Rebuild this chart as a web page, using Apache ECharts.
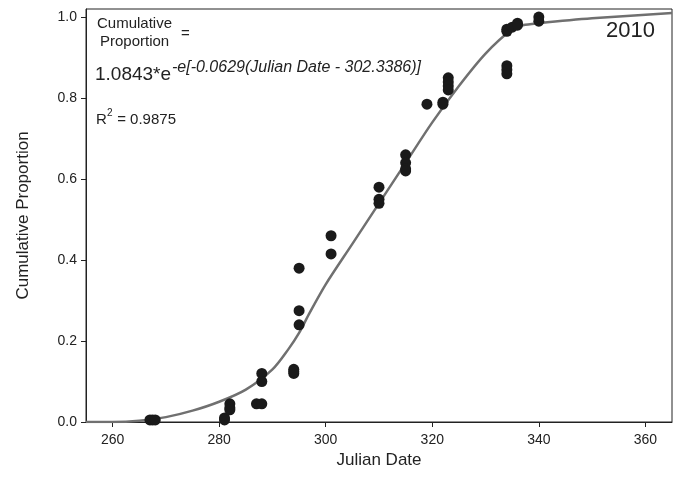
<!DOCTYPE html>
<html><head><meta charset="utf-8">
<script src="https://cdn.jsdelivr.net/npm/echarts@6/dist/echarts.min.js"></script>
<style>html,body{margin:0;padding:0;background:#fff}#c{width:676px;height:490px}</style>
</head><body><div id="c"></div>
<script>
const obsDate = [267,267.5,268,281,281,282,282,282,287,288,288,288,294,294,294,295,295,295,301,301,310,310,310,315,315,315,315,319,322,322,323,323,323,323,334,334,334,334,334,335,336,336,340,340];
const obsProp = [0.005,0.005,0.005,0.01,0.005,0.045,0.035,0.03,0.045,0.045,0.12,0.10,0.13,0.12,0.125,0.38,0.275,0.24,0.46,0.415,0.58,0.55,0.54,0.66,0.64,0.625,0.62,0.785,0.79,0.785,0.85,0.84,0.83,0.82,0.97,0.965,0.88,0.87,0.86,0.975,0.985,0.98,1.0,0.99];
const fitDate = [255,260,265,270,275,280,285,290,293,295,297,300,305,310,315,320,325,330,335,337,340,350,365];
const fitProp = [0,0,0.003,0.012,0.028,0.05,0.08,0.13,0.18,0.22,0.27,0.34,0.44,0.54,0.64,0.74,0.83,0.91,0.97,0.98,0.985,0.997,1.01];
const xTicks = [260,280,300,320,340,360];
const yTicks = [0,0.2,0.4,0.6,0.8,1.0];

const ch = echarts.init(document.getElementById('c'));
const F = 'Liberation Sans, Arial, sans-serif';
ch.setOption({
  animation:false,
  textStyle:{fontFamily:F},
  grid:{left:86,right:4,top:9,bottom:68,containLabel:false,outerBoundsMode:'none'},
  xAxis:{type:'value',min:255,max:365,interval:20,
    name:'Julian Date',nameLocation:'middle',nameGap:30,nameTextStyle:{fontSize:17,color:'#222',verticalAlign:'middle'},
    axisLine:{show:true,lineStyle:{color:'#222'}},axisTick:{show:true,inside:false,length:5,lineStyle:{color:'#222'},customValues:xTicks},
    axisLabel:{color:'#222',fontSize:14,margin:11,customValues:xTicks},splitLine:{show:false}},
  yAxis:{type:'value',min:0,max:1.02,
    name:'Cumulative Proportion',nameLocation:'middle',nameGap:54,nameTextStyle:{fontSize:17,color:'#222'},
    axisLine:{show:true,lineStyle:{color:'#222'}},axisTick:{show:true,length:5,lineStyle:{color:'#222'},customValues:yTicks},
    axisLabel:{color:'#222',fontSize:14,margin:9,customValues:yTicks,formatter:v=>v.toFixed(1)},splitLine:{show:false}},
  series:[
    {type:'line',data:fitDate.map((d,i)=>[d,fitProp[i]]),smooth:0.3,showSymbol:false,lineStyle:{color:'#707070',width:2.5},z:2},
    {type:'scatter',data:obsDate.map((d,i)=>[d,obsProp[i]]),symbolSize:11,itemStyle:{color:'#1a1a1a',opacity:1},z:3}
  ],
  graphic:[
    {type:'rect',shape:{x:86,y:9,width:586,height:413},style:{fill:'none',stroke:'#222',lineWidth:1}},
    {type:'text',x:97,y:16,style:{text:'Cumulative',font:'15px '+F,fill:'#222'}},
    {type:'text',x:100,y:34,style:{text:'Proportion',font:'15px '+F,fill:'#222'}},
    {type:'text',x:181,y:26,style:{text:'=',font:'15px '+F,fill:'#222'}},
    {type:'text',x:95,y:65,style:{text:'1.0843*e',font:'19px '+F,fill:'#222'}},
    {type:'text',x:172,y:60,style:{text:'-e[-0.0629(Julian Date - 302.3386)]',font:'italic 16px '+F,fill:'#222'}},
    {type:'text',x:96,y:112,style:{text:'R',font:'15px '+F,fill:'#222'}},
    {type:'text',x:107,y:108,style:{text:'2',font:'10px '+F,fill:'#222'}},
    {type:'text',x:113,y:112,style:{text:' = 0.9875',font:'15px '+F,fill:'#222'}},
    {type:'text',x:606,y:20,style:{text:'2010',font:'22px '+F,fill:'#222'}}
  ]
});
</script></body></html>
